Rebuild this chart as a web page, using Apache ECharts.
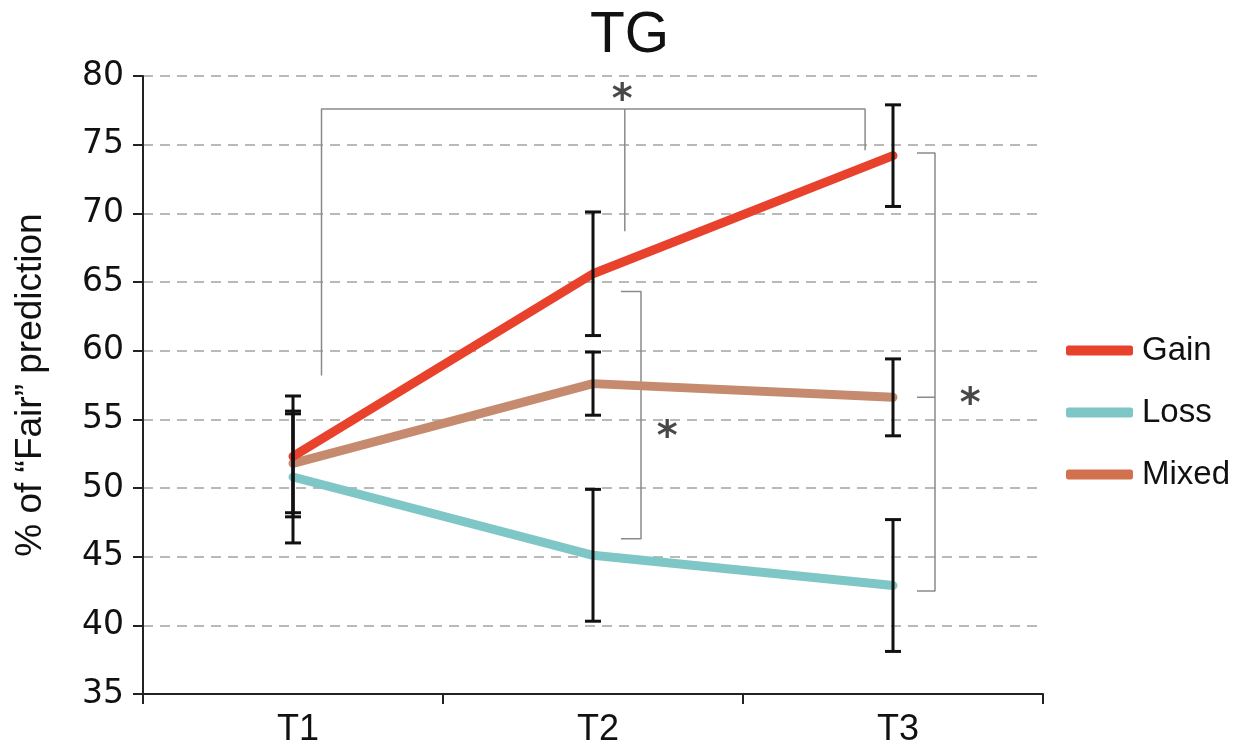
<!DOCTYPE html>
<html>
<head>
<meta charset="utf-8">
<title>TG</title>
<script src="https://cdn.jsdelivr.net/npm/echarts@6/dist/echarts.min.js"></script>
<style>
  html, body { margin: 0; padding: 0; background: #ffffff; }
  #chart { width: 1238px; height: 751px; }
</style>
</head>
<body>
<div id="chart"></div>
<script>
// Time points on the x axis
const timePoints = ['T1', 'T2', 'T3'];

// Mean % of "Fair" predictions per condition
const gainMeans  = [52.3, 65.6, 74.2];
const lossMeans  = [50.8, 45.1, 42.9];
const mixedMeans = [51.8, 57.6, 56.6];

// Error bar half-widths (±) per condition
const gainErr  = [4.4, 4.5, 3.7];
const lossErr  = [4.8, 4.8, 4.8];
const mixedErr = [3.6, 2.3, 2.8];

// Y axis ticks
const yTicks = [35, 40, 45, 50, 55, 60, 65, 70, 75, 80];

// Significance brackets, as polylines in [position along x (0..3), value] units;
// category i sits at position i + 0.5
const bracketT1T3     = [[0.595, 58.2], [0.595, 77.6], [2.407, 77.6], [2.407, 74.6]];
const bracketT1T3Stem = [[1.606, 77.6], [1.606, 68.7]];
const bracketT2       = [[1.593, 64.3], [1.66, 64.3], [1.66, 46.3], [1.593, 46.3]];
const bracketT3       = [[2.58, 74.4], [2.64, 74.4], [2.64, 42.5], [2.58, 42.5]];
const bracketT3Stem   = [[2.58, 56.6], [2.64, 56.6]];
const starMarks       = [[1.597, 79.0], [1.747, 54.5], [2.757, 56.9]];

const COLORS = { Gain: '#E8412C', Loss: '#7FC7C6', Mixed: '#C68B6E' };

const chart = echarts.init(document.getElementById('chart'), null, { renderer: 'canvas' });

function errorRows(means, errs) {
  return means.map((m, i) => [i, m - errs[i], m + errs[i]]);
}

function errorBarSeries(name, means, errs) {
  return {
    name: name + ' SE',
    type: 'custom',
    xAxisIndex: 0,
    yAxisIndex: 0,
    z: 10,
    silent: true,
    data: errorRows(means, errs),
    renderItem: function (params, api) {
      const x = api.value(0);
      const lo = api.coord([x, api.value(1)]);
      const hi = api.coord([x, api.value(2)]);
      const half = 8;
      const st = { stroke: '#111111', lineWidth: 3 };
      return {
        type: 'group',
        children: [
          { type: 'line', shape: { x1: lo[0], y1: lo[1], x2: hi[0], y2: hi[1] }, style: st },
          { type: 'line', shape: { x1: hi[0] - half, y1: hi[1], x2: hi[0] + half, y2: hi[1] }, style: st },
          { type: 'line', shape: { x1: lo[0] - half, y1: lo[1], x2: lo[0] + half, y2: lo[1] }, style: st }
        ]
      };
    }
  };
}

function meanSeries(name, means) {
  return {
    name: name,
    type: 'line',
    data: means,
    symbol: 'none',
    z: 5,
    itemStyle: { color: COLORS[name] },
    lineStyle: { color: COLORS[name], width: 9, cap: 'round', join: 'round' },
    emphasis: { disabled: true }
  };
}

function bracketSeries(points) {
  return {
    type: 'line',
    xAxisIndex: 1,
    yAxisIndex: 0,
    data: points,
    symbol: 'none',
    silent: true,
    z: 3,
    lineStyle: { color: '#8A8A8A', width: 1.5 },
    emphasis: { disabled: true }
  };
}

const option = {
  backgroundColor: '#ffffff',
  animation: false,
  title: {
    text: 'TG',
    left: 585,
    top: 3,
    textStyle: { fontFamily: 'Liberation Sans', fontSize: 57, fontWeight: 'normal', color: '#111111' }
  },
  legend: {
    orient: 'vertical',
    left: 1061,
    top: 329,
    itemWidth: 67,
    itemHeight: 10,
    itemGap: 29,
    icon: 'roundRect',
    selectedMode: false,
    textStyle: { fontFamily: 'Liberation Sans', fontSize: 33, color: '#111111', padding: [0, 0, 0, 4] },
    data: [
      { name: 'Gain' },
      { name: 'Loss' },
      { name: 'Mixed', itemStyle: { color: '#D2714E' } }
    ]
  },
  grid: { left: 143, right: 195, top: 76, bottom: 57, containLabel: false },
  xAxis: [
    {
      type: 'category',
      data: timePoints,
      boundaryGap: true,
      axisLine: { lineStyle: { color: '#222222', width: 2 } },
      axisTick: { show: true, length: 10, lineStyle: { color: '#222222', width: 2 } },
      axisLabel: { fontFamily: 'Liberation Sans', fontSize: 36, color: '#111111', margin: 18, padding: [0, 0, 0, 10] },
      splitLine: { show: false }
    },
    {
      type: 'value',
      min: 0,
      max: 3,
      show: false
    }
  ],
  yAxis: {
    type: 'value',
    min: yTicks[0],
    max: yTicks[yTicks.length - 1],
    interval: yTicks[1] - yTicks[0],
    name: '% of \u201cFair\u201d prediction',
    nameLocation: 'middle',
    nameRotate: 90,
    nameGap: 94,
    nameTextStyle: { fontFamily: 'Liberation Sans', fontSize: 37, color: '#111111' },
    axisLine: { show: true, lineStyle: { color: '#222222', width: 2 } },
    axisTick: { show: true, length: 10, lineStyle: { color: '#222222', width: 2 } },
    axisLabel: { fontFamily: 'DejaVu Sans', fontSize: 33, color: '#111111', margin: 19 },
    splitLine: { show: true, lineStyle: { color: '#A3A3A3', width: 1.5, type: [10, 7] } }
  },
  series: [
    meanSeries('Loss', lossMeans),
    meanSeries('Mixed', mixedMeans),
    meanSeries('Gain', gainMeans),
    errorBarSeries('Gain', gainMeans, gainErr),
    errorBarSeries('Loss', lossMeans, lossErr),
    errorBarSeries('Mixed', mixedMeans, mixedErr),
    bracketSeries(bracketT1T3),
    bracketSeries(bracketT1T3Stem),
    bracketSeries(bracketT2),
    bracketSeries(bracketT3),
    bracketSeries(bracketT3Stem),
    {
      type: 'scatter',
      xAxisIndex: 1,
      yAxisIndex: 0,
      data: starMarks,
      symbolSize: 0,
      silent: true,
      z: 12,
      label: {
        show: true,
        position: 'inside',
        formatter: '*',
        fontFamily: 'DejaVu Sans',
        fontWeight: 'bold',
        fontSize: 40,
        color: '#1A1A1A',
        offset: [0, 12]
      }
    }
  ]
};

chart.setOption(option);
</script>
</body>
</html>
